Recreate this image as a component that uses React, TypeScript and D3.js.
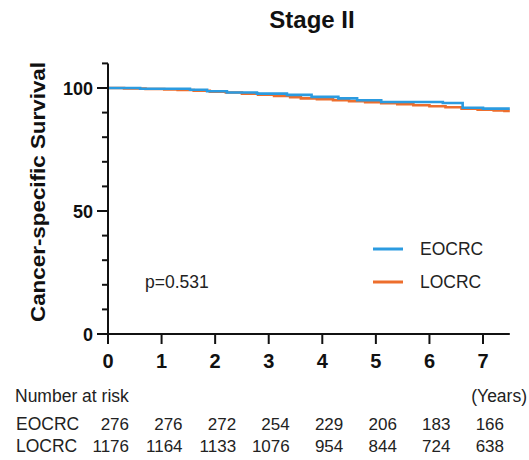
import * as d3 from 'd3';

// survival curves (years, percent)
const eoTimes = [0, 0.6, 1.53, 1.85, 2.22, 2.78, 3.34, 3.8, 4.3, 4.65, 5.1, 6.25, 6.62, 7.0, 7.5];
const eoSurv = [100, 99.7, 99.3, 98.7, 98.2, 97.7, 97.2, 96.4, 95.8, 95.0, 94.3, 93.9, 92.0, 91.6, 91.6];
const loTimes = [0, 0.3, 0.7, 1.05, 1.3, 1.6, 1.9, 2.2, 2.5, 2.8, 3.1, 3.4, 3.6, 3.9, 4.2, 4.5, 4.8, 5.1, 5.4, 5.7, 6.0, 6.3, 6.6, 6.9, 7.2, 7.4, 7.5];
const loSurv = [100, 99.8, 99.6, 99.4, 99.2, 98.9, 98.5, 98.2, 97.7, 97.3, 96.8, 96.3, 95.8, 95.4, 95.0, 94.6, 94.2, 93.8, 93.4, 93.0, 92.6, 92.2, 91.6, 91.2, 90.9, 90.7, 90.7];

const groups = ['EOCRC', 'LOCRC'];
const colors = ['#2b9be0', '#ed6e2d'];
const years = [0, 1, 2, 3, 4, 5, 6, 7];
const riskEO = [276, 276, 272, 254, 229, 206, 183, 166];
const riskLO = [1176, 1164, 1133, 1076, 954, 844, 724, 638];
const yMajor = [0, 50, 100];
const yMinor = [10, 20, 30, 40, 60, 70, 80, 90, 110];

const font = 'Liberation Sans, Arial, Helvetica, sans-serif';

const App = () => {
  const x = d3.scaleLinear().domain([0, 7.5]).range([108, 509.8]);
  const y = d3.scaleLinear().domain([0, 100]).range([334, 88]);

  const line = d3
    .line<[number, number]>()
    .x((d) => x(d[0]))
    .y((d) => y(d[1]))
    .curve(d3.curveStepAfter);

  const eo = eoTimes.map((t, i) => [t, eoSurv[i]] as [number, number]);
  const lo = loTimes.map((t, i) => [t, loSurv[i]] as [number, number]);

  return (
    <svg
      width={529}
      height={460}
      style={{ position: 'absolute', left: 0, top: 0, background: '#fff' }}
      fontFamily={font}
    >
      <text x={312} y={28} textAnchor='middle' fontSize={24} fontWeight='bold' fill='#111'>
        Stage II
      </text>
      <text
        transform={`translate(45,192) rotate(-90)`}
        textAnchor='middle'
        fontSize={20}
        fontWeight='bold'
        fill='#111'
        textLength={260}
        lengthAdjust='spacingAndGlyphs'
      >
        Cancer-specific Survival
      </text>

      {/* curves */}
      <path d={line(lo) || ''} fill='none' stroke={colors[1]} strokeWidth={2.6} />
      <path d={line(eo) || ''} fill='none' stroke={colors[0]} strokeWidth={2.6} />

      {/* y axis */}
      <line x1={x(0)} x2={x(0)} y1={y(110)} y2={y(0) + 1} stroke='#111' strokeWidth={2} />
      {yMinor.map((v) => (
        <line key={v} x1={x(0) - 6} x2={x(0)} y1={y(v)} y2={y(v)} stroke='#111' strokeWidth={2} />
      ))}
      {yMajor.map((v) => (
        <g key={v}>
          <line x1={x(0) - 11} x2={x(0)} y1={y(v)} y2={y(v)} stroke='#111' strokeWidth={2} />
          <text x={x(0) - 15} y={y(v) + 6.5} textAnchor='end' fontSize={18} fontWeight='bold' fill='#111'>
            {v}
          </text>
        </g>
      ))}

      {/* x axis */}
      <line x1={x(0) - 1} x2={x(7.5)} y1={y(0)} y2={y(0)} stroke='#111' strokeWidth={2} />
      {years.map((t) => (
        <g key={t}>
          <line x1={x(t)} x2={x(t)} y1={y(0)} y2={y(0) + 10} stroke='#111' strokeWidth={2} />
          <text x={x(t)} y={368} textAnchor='middle' fontSize={20} fontWeight='bold' fill='#111'>
            {t}
          </text>
        </g>
      ))}

      {/* legend */}
      {groups.map((g, i) => (
        <g key={g}>
          <line x1={373} x2={403} y1={249 + i * 33} y2={249 + i * 33} stroke={colors[i]} strokeWidth={3} />
          <text x={420} y={255 + i * 33} fontSize={17.5} fill='#222'>
            {g}
          </text>
        </g>
      ))}

      <text x={145} y={288} fontSize={17.5} fill='#222'>
        p=0.531
      </text>

      {/* number at risk table */}
      <text x={15} y={402} fontSize={17.5} fill='#222'>
        Number at risk
      </text>
      <text x={527} y={402} textAnchor='end' fontSize={17.5} fill='#222'>
        (Years)
      </text>
      {[riskEO, riskLO].map((row, r) => (
        <g key={r}>
          <text x={16} y={430 + r * 21.5} fontSize={17.5} fill='#222'>
            {groups[r]}
          </text>
          {row.map((n, i) => (
            <text key={i} x={x(years[i]) + 21} y={430 + r * 21.5} textAnchor='end' fontSize={17} fill='#222'>
              {n}
            </text>
          ))}
        </g>
      ))}
    </svg>
  );
};

export default App;
